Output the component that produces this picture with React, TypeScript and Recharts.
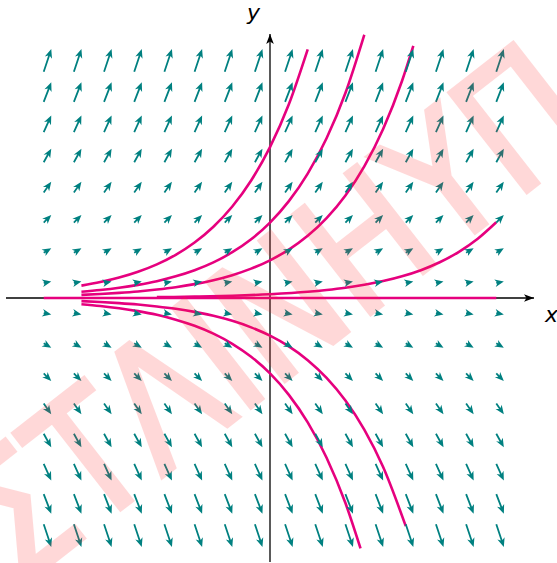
import { ComposedChart, XAxis, YAxis, Scatter, Line } from "recharts";

const W = 557;
const H = 563;
const MARGIN = { top: 34, right: 23, bottom: 1, left: 6 };
const DOMAIN: [number, number] = [-3.5, 3.5];
const PX_PER_UNIT = (W - MARGIN.left - MARGIN.right) / (DOMAIN[1] - DOMAIN[0]);

const TEAL = "#008080";
const MAGENTA = "#e6007e";

// direction field dy/dx = y : grid columns, rows and the slope read on each row
const fieldX = [-3, -2.6, -2.2, -1.8, -1.4, -1, -0.6, -0.2, 0.2, 0.6, 1, 1.4, 1.8, 2.2, 2.6, 3];
const fieldY = [3, 2.6, 2.2, 1.8, 1.4, 1, 0.6, 0.2, -0.2, -0.6, -1, -1.4, -1.8, -2.2, -2.6, -3];
const fieldSlope = [3, 2.6, 2.2, 1.8, 1.4, 1, 0.6, 0.2, -0.2, -0.6, -1, -1.4, -1.8, -2.2, -2.6, -3];
const ARROW_SCALE = 0.1;

// solution curves y = C e^x
const curveC2 = [
  { x: -2.5, y: 0.164 }, { x: -2.25, y: 0.211 }, { x: -2, y: 0.271 }, { x: -1.75, y: 0.348 },
  { x: -1.5, y: 0.446 }, { x: -1.25, y: 0.573 }, { x: -1, y: 0.736 }, { x: -0.75, y: 0.945 },
  { x: -0.5, y: 1.213 }, { x: -0.25, y: 1.558 }, { x: 0, y: 2.0 }, { x: 0.25, y: 2.568 },
  { x: 0.5, y: 3.297 },
];
const curveC1 = [
  { x: -2.5, y: 0.082 }, { x: -2.25, y: 0.105 }, { x: -2, y: 0.135 }, { x: -1.75, y: 0.174 },
  { x: -1.5, y: 0.223 }, { x: -1.25, y: 0.287 }, { x: -1, y: 0.368 }, { x: -0.75, y: 0.472 },
  { x: -0.5, y: 0.607 }, { x: -0.25, y: 0.779 }, { x: 0, y: 1.0 }, { x: 0.25, y: 1.284 },
  { x: 0.5, y: 1.649 }, { x: 0.75, y: 2.117 }, { x: 1, y: 2.718 }, { x: 1.25, y: 3.49 },
];
const curveCHalf = [
  { x: -2.5, y: 0.041 }, { x: -2.25, y: 0.053 }, { x: -2, y: 0.068 }, { x: -1.75, y: 0.087 },
  { x: -1.5, y: 0.112 }, { x: -1.25, y: 0.143 }, { x: -1, y: 0.184 }, { x: -0.75, y: 0.236 },
  { x: -0.5, y: 0.303 }, { x: -0.25, y: 0.389 }, { x: 0, y: 0.5 }, { x: 0.25, y: 0.642 },
  { x: 0.5, y: 0.824 }, { x: 0.75, y: 1.059 }, { x: 1, y: 1.359 }, { x: 1.25, y: 1.745 },
  { x: 1.5, y: 2.241 }, { x: 1.75, y: 2.877 }, { x: 1.9, y: 3.343 },
];
const curveCSmall = [
  { x: -1.5, y: 0.011 }, { x: -1, y: 0.018 }, { x: -0.5, y: 0.03 }, { x: 0, y: 0.05 },
  { x: 0.5, y: 0.082 }, { x: 0.75, y: 0.106 }, { x: 1, y: 0.136 }, { x: 1.25, y: 0.175 },
  { x: 1.5, y: 0.224 }, { x: 1.75, y: 0.288 }, { x: 2, y: 0.369 }, { x: 2.25, y: 0.474 },
  { x: 2.5, y: 0.609 }, { x: 2.75, y: 0.782 }, { x: 3, y: 1.004 },
];
const curveC0 = [{ x: -3, y: 0 }, { x: 3, y: 0 }];
const curveCNegHalf = [
  { x: -2.5, y: -0.041 }, { x: -2.25, y: -0.053 }, { x: -2, y: -0.068 }, { x: -1.75, y: -0.087 },
  { x: -1.5, y: -0.112 }, { x: -1.25, y: -0.143 }, { x: -1, y: -0.184 }, { x: -0.75, y: -0.236 },
  { x: -0.5, y: -0.303 }, { x: -0.25, y: -0.389 }, { x: 0, y: -0.5 }, { x: 0.25, y: -0.642 },
  { x: 0.5, y: -0.824 }, { x: 0.75, y: -1.059 }, { x: 1, y: -1.359 }, { x: 1.25, y: -1.745 },
  { x: 1.5, y: -2.241 }, { x: 1.8, y: -3.025 },
];
const curveCNeg1 = [
  { x: -2.5, y: -0.082 }, { x: -2.25, y: -0.105 }, { x: -2, y: -0.135 }, { x: -1.75, y: -0.174 },
  { x: -1.5, y: -0.223 }, { x: -1.25, y: -0.287 }, { x: -1, y: -0.368 }, { x: -0.75, y: -0.472 },
  { x: -0.5, y: -0.607 }, { x: -0.25, y: -0.779 }, { x: 0, y: -1.0 }, { x: 0.25, y: -1.284 },
  { x: 0.5, y: -1.649 }, { x: 0.75, y: -2.117 }, { x: 1, y: -2.718 }, { x: 1.2, y: -3.32 },
];

const curves = [curveC2, curveC1, curveCHalf, curveCSmall, curveC0, curveCNegHalf, curveCNeg1];

const xAxisLine = [{ x: -3.5, y: 0 }, { x: 3.5, y: 0 }];
const yAxisLine = [{ x: 0, y: -3.5 }, { x: 0, y: 3.5 }];

const arrows = fieldY.flatMap((y, r) => fieldX.map((x) => ({ x, y, m: fieldSlope[r] })));

function FieldArrow(props: any) {
  const { cx, cy, payload } = props;
  if (cx == null || cy == null) return null;
  const vx = ARROW_SCALE * PX_PER_UNIT;
  const vy = -ARROW_SCALE * PX_PER_UNIT * payload.m;
  const L = Math.hypot(vx, vy);
  const dx = vx / L;
  const dy = vy / L;
  const nx = -dy;
  const ny = dx;
  let w = 1.8;
  let hw = 7.6;
  let hl = 9;
  let hal = 7;
  if (L < hal) {
    const k = L / hal;
    w *= k;
    hw *= k;
    hl *= k;
    hal *= k;
  }
  const pts = [
    [0, -w / 2],
    [L - hal, -w / 2],
    [L - hl, -hw / 2],
    [L, 0],
    [L - hl, hw / 2],
    [L - hal, w / 2],
    [0, w / 2],
  ]
    .map(([a, b]) => `${(cx + a * dx + b * nx).toFixed(2)},${(cy + a * dy + b * ny).toFixed(2)}`)
    .join(" ");
  return <polygon points={pts} fill={TEAL} />;
}

const axisHead = (dir: "right" | "up", label: string) => (p: any) => {
  const key = `head-${dir}-${p.index}`;
  if (p.index !== 1) return <g key={key} />;
  const { cx, cy } = p;
  const pts =
    dir === "right"
      ? `${cx},${cy} ${cx - 10},${cy - 3.8} ${cx - 7.5},${cy} ${cx - 10},${cy + 3.8}`
      : `${cx},${cy} ${cx - 3.8},${cy + 10} ${cx},${cy + 7.5} ${cx + 3.8},${cy + 10}`;
  const tx = dir === "right" ? cx + 11 : cx - 23;
  const ty = dir === "right" ? cy + 24 : cy - 14;
  return (
    <g key={key}>
      <polygon points={pts} fill="#000" />
      <text x={tx} y={ty} fontFamily="DejaVu Sans" fontStyle="italic" fontSize={22} fill="#000">
        {label}
      </text>
    </g>
  );
};

export default function App() {
  return (
    <div style={{ position: "absolute", left: 0, top: 0, width: W, height: H, background: "#fff" }}>
      <ComposedChart width={W} height={H} margin={MARGIN} style={{ overflow: "visible" }}>
        <XAxis type="number" dataKey="x" domain={DOMAIN} hide />
        <YAxis type="number" dataKey="y" domain={DOMAIN} hide />
        <Line
          data={xAxisLine}
          dataKey="y"
          type="linear"
          stroke="#000"
          strokeWidth={1.3}
          dot={axisHead("right", "x")}
          activeDot={false}
          isAnimationActive={false}
        />
        <Line
          data={yAxisLine}
          dataKey="y"
          type="linear"
          stroke="#000"
          strokeWidth={1.3}
          dot={axisHead("up", "y")}
          activeDot={false}
          isAnimationActive={false}
        />
        <Scatter data={arrows} shape={FieldArrow} isAnimationActive={false} />
        {curves.map((c, i) => (
          <Line
            key={i}
            data={c}
            dataKey="y"
            type="monotone"
            stroke={MAGENTA}
            strokeWidth={2.6}
            dot={false}
            activeDot={false}
            isAnimationActive={false}
          />
        ))}
      </ComposedChart>
      <svg width={W} height={H} style={{ position: "absolute", left: 0, top: 0, pointerEvents: "none" }}>
        <g transform="translate(272 312) rotate(-38)" opacity={0.18}>
          <text
            x={0}
            y={62}
            textAnchor="middle"
            fontFamily="DejaVu Sans"
            fontSize={172}
            fill="#ff3030"
            stroke="#ff3030"
            strokeWidth={5}
            strokeLinejoin="miter"
            textLength={740}
            lengthAdjust="spacingAndGlyphs"
          >
            ΣΤΛΙΝΗΥΠ
          </text>
        </g>
      </svg>
    </div>
  );
}
